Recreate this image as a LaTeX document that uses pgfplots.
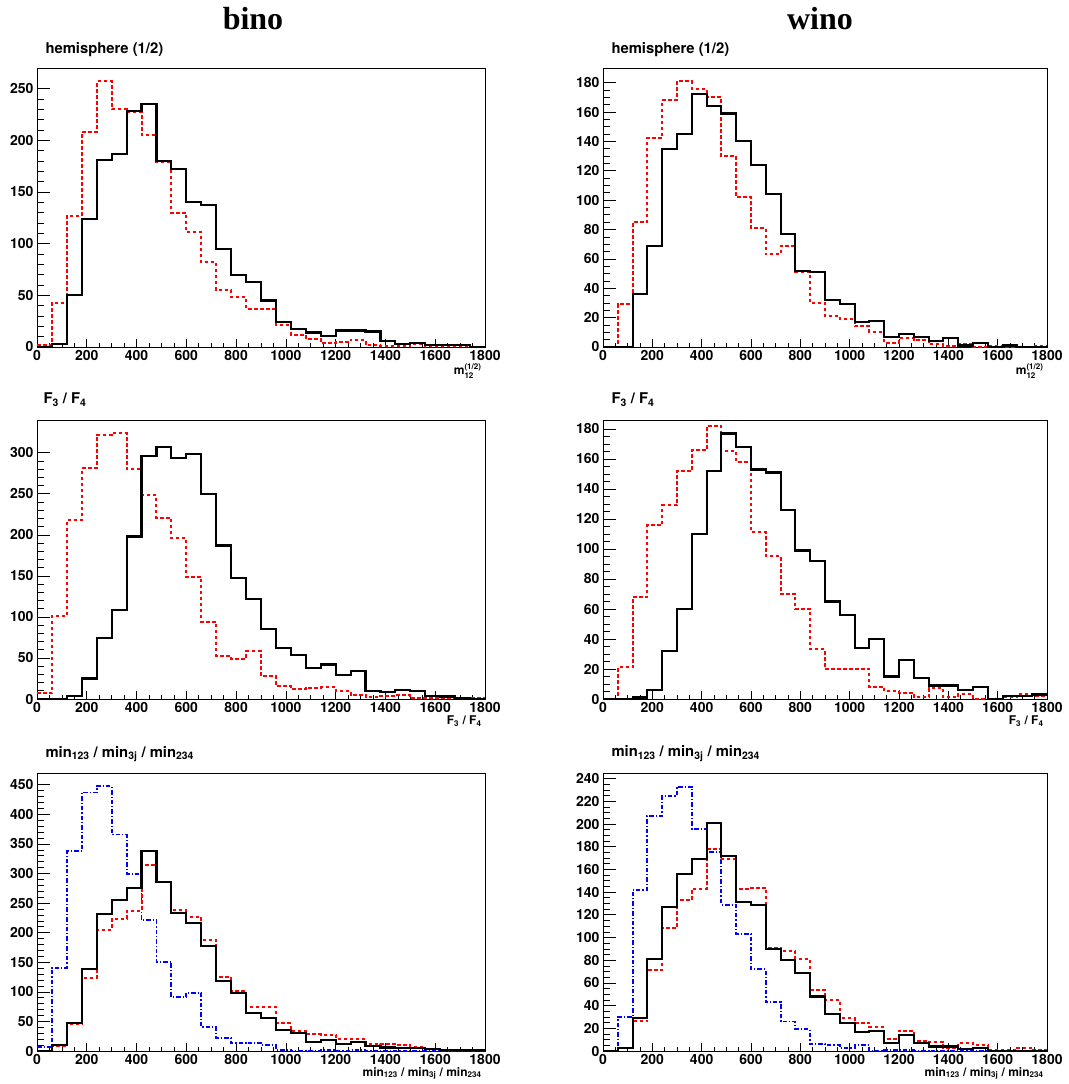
\documentclass[border=0pt]{standalone}
\usepackage{fontspec}
\setmainfont{TeX Gyre Heros}
\newfontfamily\titlefont{Liberation Serif}
\usepackage{pgfplots}
\pgfplotsset{compat=1.18}
\usepackage{pgfplotstable}

\definecolor{rootred}{RGB}{255,0,0}
\definecolor{rootblue}{RGB}{0,0,255}

% bino, hemisphere
\pgfplotstableread{
x b r
0 0 2
60 3 43
120 50 127
180 124 208
240 181 257
300 187 230
360 228 227
420 235 205
480 180 179
540 172 130
600 140 111
660 137 82
720 95 55
780 70 48
840 63 37
900 45 37
960 24 21
1020 17 12
1080 14 8
1140 11 4
1200 16 5
1260 16 7
1320 15 2
1380 6 1
1440 3 1
1500 4 3
1560 2 1
1620 2 1
1680 2 1
1740 0 0
1800 0 0
}\tabA
% wino, hemisphere
\pgfplotstableread{
x b r
0 0 0
60 0 29
120 36 85
180 69 142
240 135 168
300 145 181
360 172 176
420 164 170
480 159 130
540 140 102
600 124 81
660 104 63
720 77 69
780 52 51
840 51 30
900 32 21
960 29 19
1020 17 14
1080 18 10
1140 7 3
1200 9 6
1260 7 5
1320 4 2
1380 6 1
1440 1 2
1500 3 0
1560 0 1
1620 1 0
1680 0 0
1740 0 1
1800 0 1
}\tabB
% bino, F3/F4
\pgfplotstableread{
x b r
0 0 7
60 0 101
120 4 218
180 25 281
240 74 322
300 109 324
360 198 280
420 296 248
480 307 221
540 294 196
600 299 149
660 250 94
720 187 53
780 147 49
840 122 58
900 85 28
960 62 16
1020 54 12
1080 38 14
1140 42 15
1200 29 10
1260 34 5
1320 10 2
1380 9 4
1440 11 5
1500 10 1
1560 4 1
1620 3 1
1680 1 1
1740 0 1
1800 0 1
}\tabC
% wino, F3/F4
\pgfplotstableread{
x b r
0 0 0
60 0 21
120 1 68
180 6 116
240 32 129
300 60 152
360 110 166
420 152 182
480 177 165
540 168 158
600 153 111
660 151 95
720 126 70
780 99 60
840 92 33
900 65 20
960 56 20
1020 34 20
1080 40 8
1140 15 5
1200 26 4
1260 14 1
1320 9 7
1380 9 1
1440 6 3
1500 8 0
1560 0 0
1620 2 1
1680 2 3
1740 3 2
1800 3 2
}\tabD
% bino, min
\pgfplotstableread{
x b r u
0 0 0 7
60 10 8 141
120 48 46 338
180 139 124 437
240 231 205 448
300 256 224 366
360 276 237 300
420 338 314 221
480 285 285 151
540 234 239 91
600 216 227 98
660 177 188 40
720 118 125 22
780 98 101 14
840 65 75 13
900 56 75 10
960 36 47 2
1020 30 34 0
1080 15 28 0
1140 18 27 1
1200 12 21 0
1260 15 21 1
1320 8 12 0
1380 6 11 0
1440 5 10 0
1500 5 7 0
1560 3 4 0
1620 1 2 0
1680 1 2 0
1740 1 2 0
1800 1 2 0
}\tabE
% wino, min
\pgfplotstableread{
x b r u
0 0 0 0
60 3 3 30
120 29 26 142
180 81 71 207
240 127 108 225
300 156 133 233
360 169 143 196
420 201 178 175
480 172 169 129
540 131 143 103
600 129 144 72
660 90 91 43
720 80 88 26
780 69 81 19
840 48 54 6
900 33 45 5
960 25 29 3
1020 17 25 5
1080 18 21 0
1140 7 11 1
1200 14 18 1
1260 7 9 0
1320 4 8 0
1380 4 3 0
1440 2 7 0
1500 3 5 0
1560 0 1 0
1620 0 1 0
1680 0 3 0
1740 0 1 0
1800 0 1 0
}\tabF

\newcommand\lblfont{\bfseries\fontsize{14}{16}\selectfont}
\newcommand\ttlfont{\bfseries\fontsize{14.8}{16}\selectfont}
\newcommand\xlfont{\bfseries\fontsize{12}{14}\selectfont}
\newcommand\scr[1]{\mbox{\fontsize{8}{9}\selectfont\bfseries #1}}

\pgfplotsset{
  rootax/.style={
    scale only axis, anchor=south west,
    xmin=0, xmax=1800, ymin=0,
    xtick={0,200,...,1800}, minor x tick num=3,
    tick align=inside, xtick pos=lower, ytick pos=left,
    ticklabel style={font=\lblfont},
    /pgf/number format/assume math mode=true,
    /pgf/number format/1000 sep={},
    scaled ticks=false,
    axis line style={line width=0.7pt},
    every tick/.style={line width=0.7pt, black},
    xtick style={/pgfplots/major tick length=8pt,/pgfplots/minor tick length=4pt},
    ytick style={/pgfplots/major tick length=13pt,/pgfplots/minor tick length=7pt},
    clip=false,
  },
  hblack/.style={const plot, black, line width=2.1pt, line join=miter, no marks},
  hred/.style={const plot, rootred, line width=2pt, line join=miter, dash pattern=on 3.5pt off 2.5pt, no marks},
  hblue/.style={const plot, rootblue, line width=1.9pt, line join=miter, dash pattern=on 4.5pt off 2pt on 1.2pt off 2pt, no marks},
}

\begin{document}
\begin{tikzpicture}
\useasboundingbox (0,0) rectangle (1068pt,1084pt);
\node[anchor=base, font=\titlefont\bfseries\fontsize{32}{34}\selectfont] at (253pt,1054pt) {bino};
\node[anchor=base, font=\titlefont\bfseries\fontsize{32}{34}\selectfont] at (820pt,1054pt) {wino};

% row 1
\begin{axis}[rootax, at={(37pt,737pt)}, width=448pt, height=279pt, ymax=270,
  ytick={0,50,...,250}, minor y tick num=4]
  \addplot[hred] table[x=x,y=r]{\tabA};
  \addplot[hblack] table[x=x,y=b]{\tabA};
  \node[anchor=base west, font=\ttlfont] at (rel axis cs:0,1) [xshift=5pt,yshift=14pt] {hemisphere (1/2)};
  \node[anchor=base east, font=\xlfont] at (rel axis cs:1,0) [yshift=-28pt] {m$^{\raisebox{-1pt}{\scr{(1/2)}}}_{\scr{12}}$};
\end{axis}
\begin{axis}[rootax, at={(603pt,737pt)}, width=444pt, height=279pt, ymax=190,
  ytick={0,20,...,180}, minor y tick num=3]
  \addplot[hred] table[x=x,y=r]{\tabB};
  \addplot[hblack] table[x=x,y=b]{\tabB};
  \node[anchor=base west, font=\ttlfont] at (rel axis cs:0,1) [xshift=5pt,yshift=14pt] {hemisphere (1/2)};
  \node[anchor=base east, font=\xlfont] at (rel axis cs:1,0) [yshift=-28pt] {m$^{\raisebox{-1pt}{\scr{(1/2)}}}_{\scr{12}}$};
\end{axis}

% row 2
\begin{axis}[rootax, at={(37pt,385pt)}, width=448pt, height=279pt, ymax=340,
  ytick={0,50,...,300}, minor y tick num=4]
  \addplot[hred] table[x=x,y=r]{\tabC};
  \addplot[hblack] table[x=x,y=b]{\tabC};
  \node[anchor=base west, font=\ttlfont] at (rel axis cs:0,1) [xshift=3pt,yshift=16pt] {F\textsubscript{3} / F\textsubscript{4}};
  \node[anchor=base east, font=\xlfont] at (rel axis cs:1,0) [yshift=-26pt] {F\textsubscript{3} / F\textsubscript{4}};
\end{axis}
\begin{axis}[rootax, at={(603pt,385pt)}, width=444pt, height=279pt, ymax=186,
  ytick={0,20,...,180}, minor y tick num=3]
  \addplot[hred] table[x=x,y=r]{\tabD};
  \addplot[hblack] table[x=x,y=b]{\tabD};
  \node[anchor=base west, font=\ttlfont] at (rel axis cs:0,1) [xshift=5pt,yshift=16pt] {F\textsubscript{3} / F\textsubscript{4}};
  \node[anchor=base east, font=\xlfont] at (rel axis cs:1,0) [yshift=-26pt] {F\textsubscript{3} / F\textsubscript{4}};
\end{axis}

% row 3
\begin{axis}[rootax, at={(37pt,33pt)}, width=448pt, height=278pt, ymax=470,
  ytick={0,50,...,450}, minor y tick num=4]
  \addplot[hblue] table[x=x,y=u]{\tabE};
  \addplot[hred] table[x=x,y=r]{\tabE};
  \addplot[hblack] table[x=x,y=b]{\tabE};
  \node[anchor=base west, font=\ttlfont] at (rel axis cs:0,1) [xshift=5pt,yshift=16pt] {min\textsubscript{123} / min\textsubscript{3j} / min\textsubscript{234}};
  \node[anchor=base east, font=\xlfont] at (rel axis cs:1,0) [yshift=-25pt] {min\textsubscript{123} / min\textsubscript{3j} / min\textsubscript{234}};
\end{axis}
\begin{axis}[rootax, at={(603pt,33pt)}, width=444pt, height=278pt, ymax=245,
  ytick={0,20,...,240}, minor y tick num=3]
  \addplot[hblue] table[x=x,y=u]{\tabF};
  \addplot[hred] table[x=x,y=r]{\tabF};
  \addplot[hblack] table[x=x,y=b]{\tabF};
  \node[anchor=base west, font=\ttlfont] at (rel axis cs:0,1) [xshift=5pt,yshift=16pt] {min\textsubscript{123} / min\textsubscript{3j} / min\textsubscript{234}};
  \node[anchor=base east, font=\xlfont] at (rel axis cs:1,0) [yshift=-25pt] {min\textsubscript{123} / min\textsubscript{3j} / min\textsubscript{234}};
\end{axis}
\end{tikzpicture}
\end{document}
